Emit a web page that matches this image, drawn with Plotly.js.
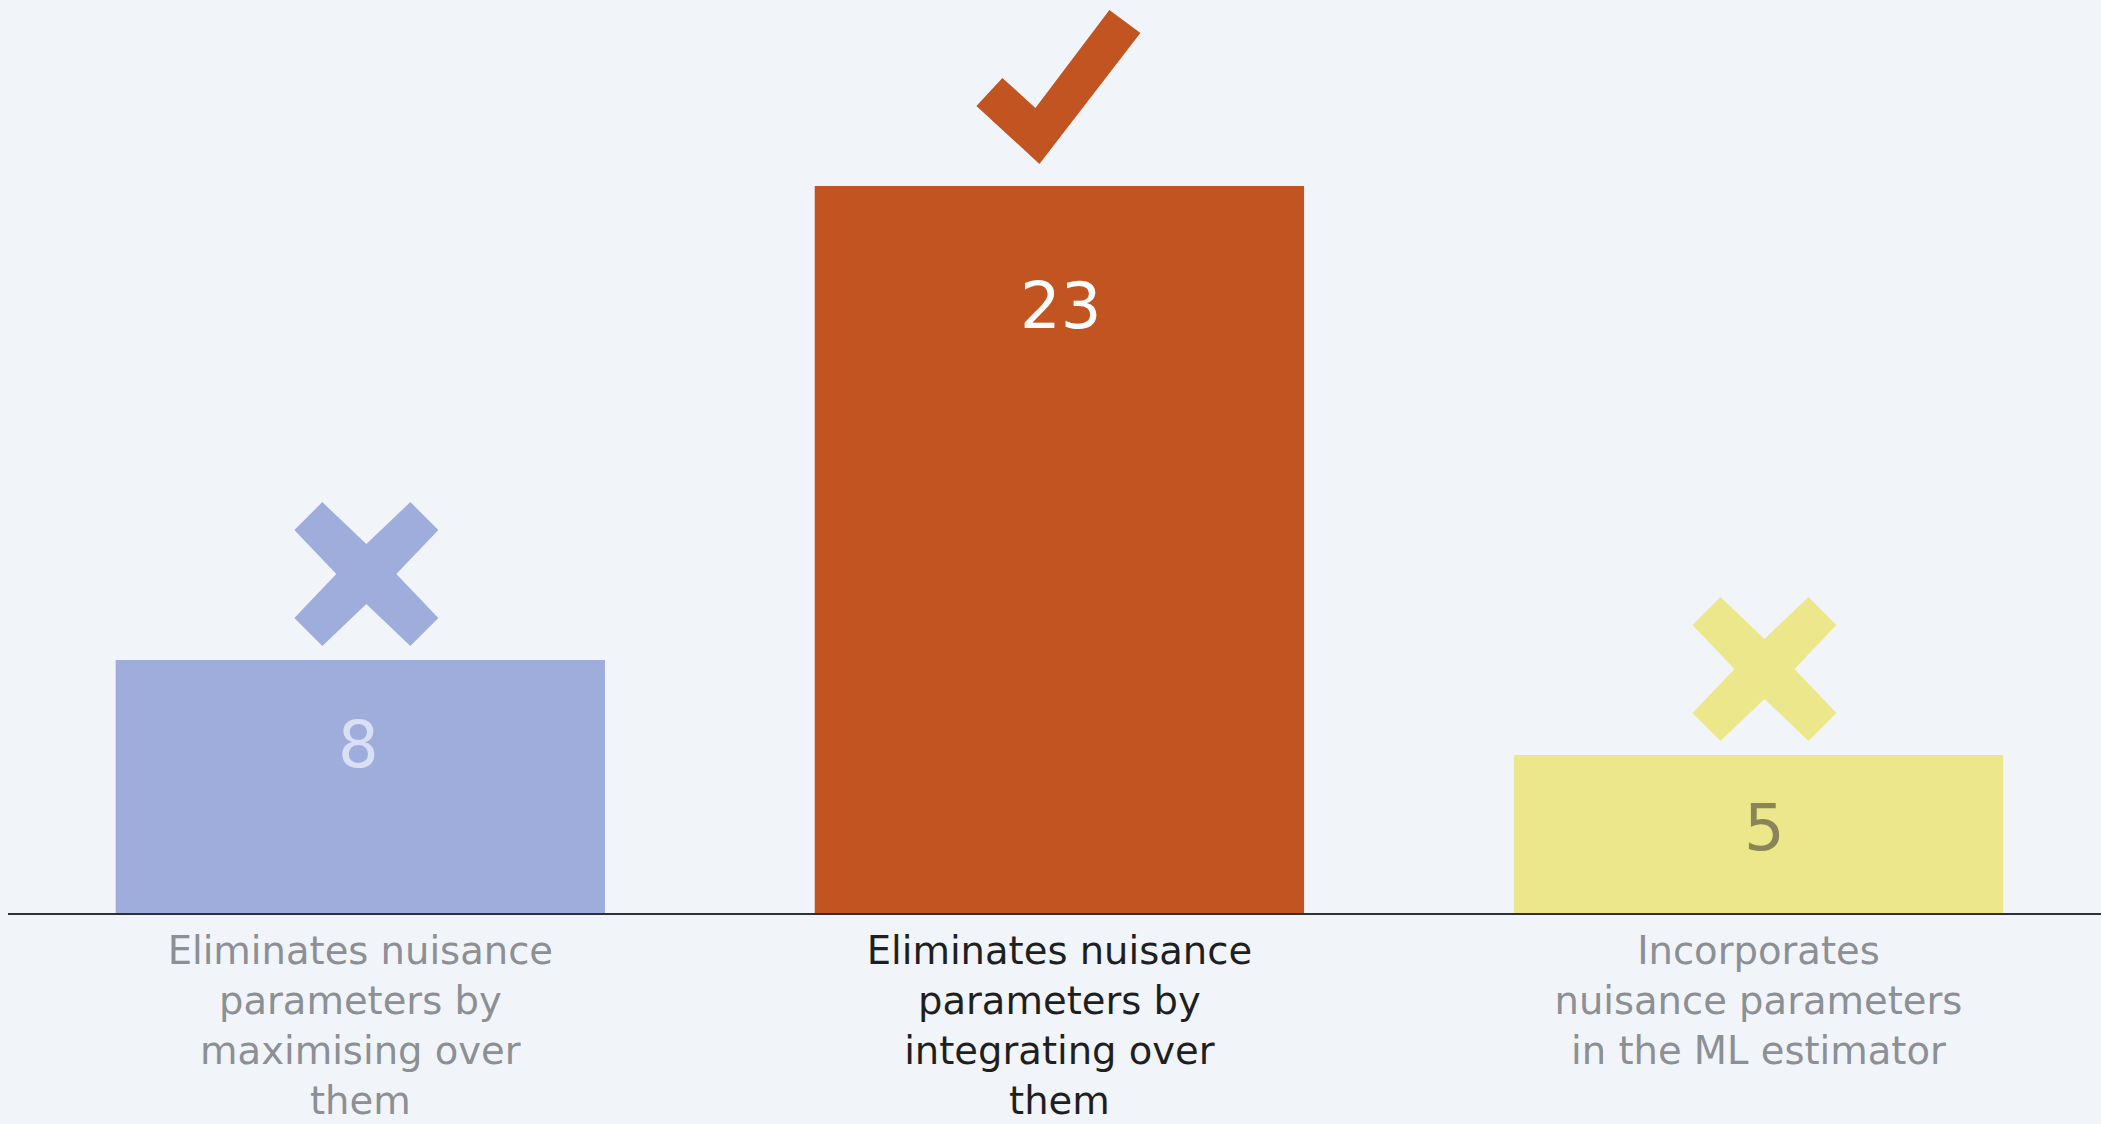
<!DOCTYPE html>
<html>
<head>
<meta charset="utf-8">
<script src="https://cdn.plot.ly/plotly-3.0.1.min.js"></script>
<style>
html,body{margin:0;padding:0;background:#F1F5FA;}
#chart{width:2101px;height:1124px;}
</style>
</head>
<body>
<div id="chart"></div>
<script>
// ---- data ----
var categories = [
  "Eliminates nuisance<br>parameters by<br>maximising over<br>them",
  "Eliminates nuisance<br>parameters by<br>integrating over<br>them",
  "Incorporates<br>nuisance parameters<br>in the ML estimator"
];
var values = [8, 23, 5];
var verdicts = ["cross", "check", "cross"];

// ---- style ----
var barColors = ["#9EADDC", "#C25422", "#EDE78B"];
var valueColors = ["#D9E0F4", "#FFFFFF", "#8A8558"];
var tickColors = ["#8C8F94", "#1F1F1F", "#8C8F94"];
var valueShiftY = [-85, -120, -73];
var valueShiftX = [-2, 1, 6];
var FONT = "DejaVu Sans, Verdana, sans-serif";

var xIdx = categories.map(function (c, i) { return i; });

var trace = {
  type: "bar",
  x: xIdx,
  y: values,
  marker: {color: barColors, line: {width: 0}},
  hoverinfo: "skip",
  showlegend: false
};

var tickText = categories.map(function (c, i) {
  return '<span style="color:' + tickColors[i] + '">' + c + '</span>';
});

var annotations = values.map(function (v, i) {
  return {
    x: xIdx[i], y: v, xref: "x", yref: "y",
    text: String(v), showarrow: false,
    yanchor: "middle", xanchor: "center",
    yshift: valueShiftY[i], xshift: valueShiftX[i],
    font: {family: FONT, size: 64, color: valueColors[i]}
  };
});

// mark shapes (pixel offsets relative to bar top)
function crossPath(dx, dy, a, p, c) {
  var pts = [[0, c], [p, a], [a, p], [c, 0], [a, -p], [p, -a], [0, -c],
             [-p, -a], [-a, -p], [-c, 0], [-a, p], [-p, a]];
  return "M" + pts.map(function (q) { return (q[0] + dx) + "," + (q[1] + dy); }).join("L") + "Z";
}
function checkPath(dy) {
  var pts = [[-83, 82], [-57, 110], [-24, 80], [50, 178], [81, 155], [-20, 24]];
  return "M" + pts.map(function (q) { return q[0] + "," + (q[1] + dy); }).join("L") + "Z";
}

var shapes = verdicts.map(function (vd, i) {
  return {
    type: "path", xref: "x", yref: "y",
    xsizemode: "pixel", ysizemode: "pixel",
    xanchor: xIdx[i], yanchor: values[i],
    path: vd === "check" ? checkPath(-2) : crossPath(6, 86, 72, 44, 30),
    fillcolor: barColors[i], line: {width: 0}, layer: "above"
  };
});

var layout = {
  width: 2101, height: 1124,
  margin: {l: 8, r: 0, t: 0, b: 211, pad: 0},
  paper_bgcolor: "#F1F5FA",
  plot_bgcolor: "#F1F5FA",
  bargap: 0.3,
  xaxis: {
    type: "linear",
    range: [-0.504, 2.49],
    tickmode: "array",
    tickvals: xIdx,
    ticktext: tickText,
    showgrid: false, zeroline: false,
    showline: true, linecolor: "#2E3035", linewidth: 2,
    ticks: "", ticklabelstandoff: 3,
    tickfont: {family: FONT, size: 38.5, color: "#8C8F94"},
    fixedrange: true
  },
  yaxis: {
    range: [0, 28.88],
    visible: false, showgrid: false, zeroline: false,
    fixedrange: true
  },
  annotations: annotations,
  shapes: shapes,
  showlegend: false
};

Plotly.newPlot("chart", [trace], layout, {displayModeBar: false, staticPlot: true});
</script>
</body>
</html>
